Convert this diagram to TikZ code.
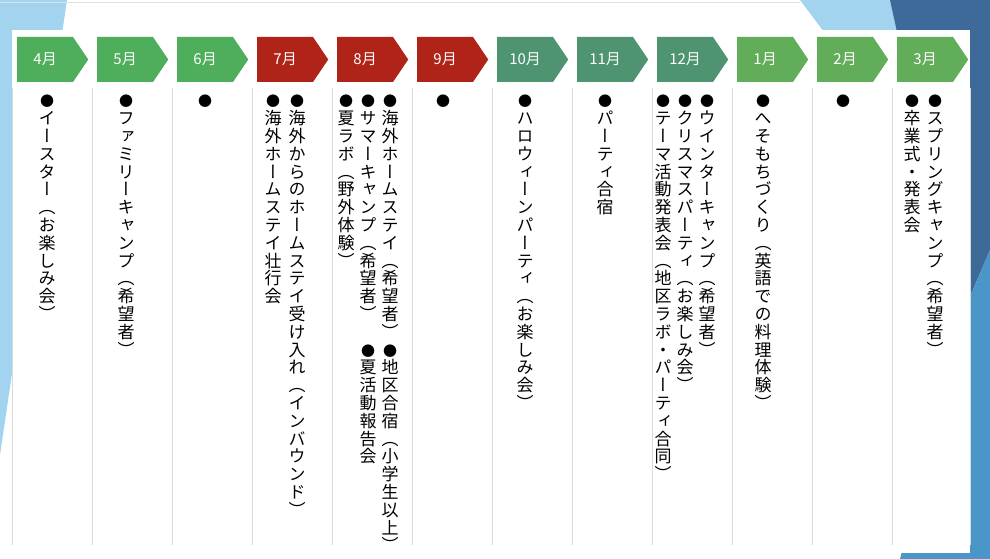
\documentclass[tikz,border=0pt]{standalone}
\usepackage{fontspec}
\usetikzlibrary{shapes.symbols}
\setmainfont{Noto Sans CJK JP}
\newfontfamily\vfont[RawFeature=+vert]{Noto Sans CJK JP}
\definecolor{gA}{HTML}{4EAE5B}
\definecolor{rA}{HTML}{B02318}
\definecolor{tA}{HTML}{4E9470}
\definecolor{gB}{HTML}{62AD5A}
\definecolor{sky}{HTML}{A3D4EF}
\definecolor{navy}{HTML}{3E6A9A}
\definecolor{midblue}{HTML}{4A96C8}
\ExplSyntaxOn
\NewDocumentCommand\vtext{m}{\tl_map_inline:nn{#1}{\str_if_eq:nnTF{##1}{●}{{\fontsize{14}{17.8}\selectfont●}}{##1}\\}}
\ExplSyntaxOff
\tikzset{
  month/.style={signal, signal to=east, signal pointer angle=112, fill=#1, draw=none,
    minimum width=71pt, minimum height=45pt, inner sep=0pt, text=white, anchor=west,
    font=\fontsize{15}{15}\selectfont},
  vcol/.style={anchor=north, align=center, inner sep=0pt,
    font=\vfont\fontsize{17}{17.8}\selectfont},
  sep/.style={draw=black!15, line width=1pt}
}
\begin{document}
\begin{tikzpicture}[x=1pt,y=-1pt]
\useasboundingbox (0,0) rectangle (990,559);
% background
\fill[white] (0,0) rectangle (990,559);
\fill[sky] (0,0) -- (67,0) -- (0,455) -- cycle;
\fill[sky] (800,0) -- (890,0) -- (930,120) -- (830,40) -- cycle;
\fill[navy] (890,0) -- (990,0) -- (990,250) -- (960,320) -- cycle;
\fill[midblue] (990,250) -- (990,559) -- (900,559) -- (960,320) -- cycle;
\draw[black!12] (0,2) -- (800,2);
\fill[white] (12,30) rectangle (970,553);
% months
\foreach \m/\c [count=\i from 0] in {4月/gA,5月/gA,6月/gA,7月/rA,8月/rA,9月/rA,10月/tA,11月/tA,12月/tA,1月/gB,2月/gB,3月/gB}{
  \node[month=\c] (m\i) at (17+80*\i,59.5) {\m};
  \draw[sep] (12+80*\i,88) -- (12+80*\i,545);
}
\draw[sep] (970,88) -- (970,545);
% events
\node[vcol] (t4) at (47,95) {\vtext{●イースター（お楽しみ会）}};
\node[vcol] (t5) at (126,95) {\vtext{●ファミリーキャンプ（希望者）}};
\node[vcol] (t6) at (205,95) {\vtext{●}};
\node[vcol] (t7a) at (297,95) {\vtext{●海外からのホームステイ受け入れ（インバウンド）}};
\node[vcol] (t7b) at (273,95) {\vtext{●海外ホームステイ壮行会}};
\node[vcol] (t8a) at (390,95) {\vtext{●海外ホームステイ（希望者）●地区合宿（小学生以上）}};
\node[vcol] (t8b) at (368,95) {\vtext{●サマーキャンプ（希望者）　●夏活動報告会}};
\node[vcol] (t8c) at (346,95) {\vtext{●夏ラボ（野外体験）}};
\node[vcol] (t9) at (443,95) {\vtext{●}};
\node[vcol] (t10) at (525,95) {\vtext{●ハロウィーンパーティ（お楽しみ会）}};
\node[vcol] (t11) at (605,95) {\vtext{●パーティ合宿}};
\node[vcol] (t12a) at (707,95) {\vtext{●ウインターキャンプ（希望者）}};
\node[vcol] (t12b) at (685,95) {\vtext{●クリスマスパーティ（お楽しみ会）}};
\node[vcol] (t12c) at (663,95) {\vtext{●テーマ活動発表会（地区ラボ・パーティ合同）}};
\node[vcol] (t1) at (763,95) {\vtext{●へそもちづくり（英語での料理体験）}};
\node[vcol] (t2) at (843,95) {\vtext{●}};
\node[vcol] (t3a) at (935,95) {\vtext{●スプリングキャンプ（希望者）}};
\node[vcol] (t3b) at (912,95) {\vtext{●卒業式・発表会}};
\end{tikzpicture}
\end{document}
